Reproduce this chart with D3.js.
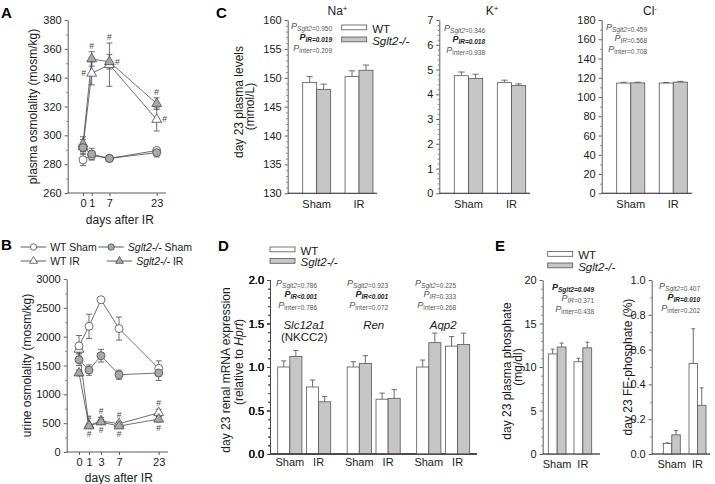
<!DOCTYPE html>
<html><head><meta charset="utf-8">
<script src="https://cdnjs.cloudflare.com/ajax/libs/d3/7.8.5/d3.min.js"></script>
<style>body{margin:0;background:#fff}svg{display:block}</style>
</head><body><svg id="c" width="715" height="484"></svg>
<script>
// ---------------- DATA ----------------
// Panel A: plasma osmolality
const daysA = [0, 1, 7, 23];
const plasmaWTSham = [283, 286, 284, 289.5], plasmaWTShamErr = [4, 3, 2, 2];
const plasmaKOSham = [291.5, 287, 284, 288], plasmaKOShamErr = [3, 4, 2, 3];
const plasmaWTIR = [292, 343, 349, 311], plasmaWTIRErr = [5, 8, 15, 8];
const plasmaKOIR = [294, 353, 351, 322], plasmaKOIRErr = [5, 5, 5, 4];
// Panel B: urine osmolality
const daysB = [0, 1, 3, 7, 23];
const urineWTSham = [1840, 2180, 2640, 2140, 1450], urineWTShamErr = [180, 210, 40, 200, 130];
const urineKOSham = [1600, 1420, 1670, 1340, 1370], urineKOShamErr = [100, 90, 110, 80, 130];
const urineWTIR = [1780, 460, 540, 490, 680], urineWTIRErr = [60, 30, 60, 40, 60];
const urineKOIR = [1370, 450, 520, 450, 570], urineKOIRErr = [50, 30, 40, 40, 50];
// hash marks: [series, day, side]
const hashA = [["WT IR",1,"left"],["KO IR",1,"above"],["WT IR",7,"above"],["KO IR",7,"right"],["KO IR",23,"above"],["WT IR",23,"right"]];
const hashB = [["WT IR",1,"above"],["KO IR",1,"below"],["WT IR",3,"above"],["KO IR",3,"below"],["WT IR",7,"above"],["KO IR",7,"below"],["WT IR",23,"above"],["KO IR",23,"below"]];
// Panel C: day 23 plasma electrolytes (Sham, IR)
const groups = ["Sham", "IR"];
const naWT = [149.2, 150.2], naWTErr = [1.0, 1.0], naKO = [148.0, 151.3], naKOErr = [0.9, 0.9];
const kWT = [4.75, 4.47], kWTErr = [0.15, 0.1], kKO = [4.64, 4.35], kKOErr = [0.17, 0.07];
const clWT = [114.5, 114.5], clWTErr = [0.8, 0.6], clKO = [114.7, 115.5], clKOErr = [0.7, 0.8];
const pNa = ["=0.950", "=0.019", "=0.209"], pK = ["=0.346", "=0.018", "=0.938"], pCl = ["=0.459", "=0.568", "=0.708"];
// Panel D: renal mRNA expression
const genes = ["Slc12a1", "Ren", "Aqp2"];
const mrnaWTSham = [1.00, 1.00, 1.00], mrnaWTShamErr = [0.07, 0.06, 0.08];
const mrnaKOSham = [1.12, 1.04, 1.28], mrnaKOShamErr = [0.07, 0.09, 0.11];
const mrnaWTIR = [0.77, 0.63, 1.24], mrnaWTIRErr = [0.08, 0.07, 0.11];
const mrnaKOIR = [0.60, 0.64, 1.26], mrnaKOIRErr = [0.06, 0.10, 0.13];
const pSlc = ["=0.786", "<0.001", "=0.786"], pRen = ["=0.923", "<0.001", "=0.072"], pAqp = ["=0.225", "=0.333", "=0.268"];
// Panel E: phosphate
const phosWT = [11.5, 10.6], phosWTErr = [0.55, 0.4], phosKO = [12.3, 12.2], phosKOErr = [0.45, 0.65];
const fePWT = [0.06, 0.52], fePWTErr = [0.004, 0.2], fePKO = [0.11, 0.28], fePKOErr = [0.025, 0.10];
const pPhos = ["=0.049", "=0.371", "=0.438"], pFe = ["=0.407", "=0.010", "=0.202"];

// ---------------- DRAW ----------------
const FONT = '"Liberation Sans", Arial, Helvetica, sans-serif';
const ink = "#4a4a4a", txt = "#1a1a1a";
const markGray = "#a9a9a9", barGray = "#c6c6c6";
const svg = d3.select("#c").attr("font-family", FONT);

function styleAxis(a) {
  a.select(".domain").attr("stroke", ink).attr("stroke-width", 0.9);
  a.selectAll(".tick line").attr("stroke", ink).attr("stroke-width", 0.9);
  a.selectAll(".tick text").attr("font-size", 11).attr("font-family", FONT).attr("fill", txt);
}
function yAxis(g, y, x, step, minorStep, fmt) {
  const [lo, hi] = y.domain();
  const major = d3.range(lo, hi + step / 2, step);
  g.append("g").attr("transform", `translate(${x},0)`)
    .call(d3.axisLeft(y).tickValues(major).tickSize(3).tickSizeOuter(0).tickPadding(3).tickFormat(fmt))
    .call(styleAxis);
  if (minorStep) {
    const minor = d3.range(lo, hi + minorStep / 2, minorStep).filter(v => Math.abs((v - lo) / step - Math.round((v - lo) / step)) > 1e-6);
    g.append("g").attr("transform", `translate(${x},0)`)
      .call(d3.axisLeft(y).tickValues(minor).tickSize(1.6).tickSizeOuter(0).tickFormat(""))
      .call(a => a.select(".domain").remove())
      .selectAll("line").attr("stroke", ink).attr("stroke-width", 0.7);
  }
}
function hline(g, x1, x2, y) {
  g.append("line").attr("x1", x1).attr("x2", x2).attr("y1", y).attr("y2", y).attr("stroke", ink).attr("stroke-width", 0.9);
}
function label(g, x, y, text, size, opts = {}) {
  const t = g.append("text").attr("x", x).attr("y", y).attr("font-size", size).attr("fill", opts.fill || txt)
    .attr("text-anchor", opts.anchor || "start");
  if (opts.italic) t.attr("font-style", "italic");
  if (opts.bold) t.attr("font-weight", "bold");
  if (opts.rotate) t.attr("transform", `rotate(-90,${x},${y})`);
  t.text(text);
  return t;
}
function pLines(g, xRight, yTop, vals, boldIdx) {
  const subs = ["Sglt2", "IR", "inter"];
  vals.forEach((v, i) => {
    const bold = i === boldIdx;
    const t = g.append("text").attr("x", xRight).attr("y", yTop + i * 11).attr("text-anchor", "end")
      .attr("fill", bold ? "#222" : "#555").attr("font-weight", bold ? "bold" : "normal");
    t.append("tspan").attr("font-size", 9).attr("font-style", "italic").text("P");
    t.append("tspan").attr("font-size", 6.5).attr("dy", 2).attr("font-style", i === 2 ? "normal" : "italic").text(subs[i]);
    t.append("tspan").attr("font-size", 6.5).attr("font-style", bold ? "italic" : "normal").text(v);
  });
}
function marker(g, shape, fill, x, y, k = 1) {
  if (shape === "circle") {
    g.append("circle").attr("cx", x).attr("cy", y).attr("r", 4 * k).attr("fill", fill).attr("stroke", ink).attr("stroke-width", 0.8);
  } else {
    g.append("path").attr("d", d3.symbol(d3.symbolTriangle, 42 * k * k)()).attr("transform", `translate(${x},${y})`)
      .attr("fill", fill).attr("stroke", ink).attr("stroke-width", 0.8);
  }
}
const seriesStyle = {
  "WT Sham": { shape: "circle", fill: "#fff" },
  "KO Sham": { shape: "circle", fill: markGray },
  "WT IR": { shape: "triangle", fill: "#fff" },
  "KO IR": { shape: "triangle", fill: markGray }
};

function linePanel(o) {
  const g = svg.append("g");
  yAxis(g, o.y, o.axX, o.yStep, o.yMinor, d3.format("d"));
  hline(g, o.axX, o.axEnd, o.y.range()[0]);
  g.append("g").attr("transform", `translate(0,${o.y.range()[0]})`)
    .call(d3.axisBottom(o.x).tickValues(o.days).tickSize(3).tickPadding(3).tickFormat(d3.format("d")))
    .call(styleAxis).call(a => a.select(".domain").remove());
  const line = d3.line().x((d, i) => o.x(o.days[i])).y(d => o.y(d));
  const order = ["WT IR", "KO IR", "WT Sham", "KO Sham"];
  order.forEach(name => {
    const s = o.series[name];
    g.append("path").attr("d", line(s.v)).attr("fill", "none").attr("stroke", ink).attr("stroke-width", 0.8);
  });
  order.forEach(name => {
    const s = o.series[name];
    s.v.forEach((v, i) => {
      const x = o.x(o.days[i]), y1 = o.y(v - s.e[i]), y2 = o.y(v + s.e[i]);
      g.append("line").attr("x1", x).attr("x2", x).attr("y1", y1).attr("y2", y2).attr("stroke", ink).attr("stroke-width", 0.8);
      [y1, y2].forEach(yy => g.append("line").attr("x1", x - 3).attr("x2", x + 3).attr("y1", yy).attr("y2", yy).attr("stroke", ink).attr("stroke-width", 0.8));
    });
  });
  order.forEach(name => {
    const s = o.series[name], st = seriesStyle[name];
    s.v.forEach((v, i) => marker(g, st.shape, st.fill, o.x(o.days[i]), o.y(v)));
  });
  o.hash.forEach(([name, day, side]) => {
    const s = o.series[name], i = o.days.indexOf(day), v = s.v[i], e = s.e[i];
    let x = o.x(day), y = o.y(v) + 3;
    if (side === "left") x -= 8;
    if (side === "right") x += 8;
    if (side === "above") y = o.y(v + e) - 3;
    if (side === "below") y = o.y(v - e) + 9;
    label(g, x, y, "#", 8.5, { anchor: "middle", fill: "#444" });
  });
  label(g, (o.x.range()[0] + o.x.range()[o.x.range().length - 1]) / 2, o.xTitleY, "days after IR", 12, { anchor: "middle" });
  label(g, o.yTitleX, (o.y.range()[0] + o.y.range()[1]) / 2, o.yTitle, 12, { anchor: "middle", rotate: true });
}

// Panel A
linePanel({
  x: d3.scaleLinear().domain([0, 1, 23]).range([83, 91.7, 156.7]),
  y: d3.scaleLinear().domain([260, 380]).range([193, 20]),
  axX: 67.7, axEnd: 166, yStep: 20, yMinor: 10, days: daysA,
  series: {
    "WT Sham": { v: plasmaWTSham, e: plasmaWTShamErr }, "KO Sham": { v: plasmaKOSham, e: plasmaKOShamErr },
    "WT IR": { v: plasmaWTIR, e: plasmaWTIRErr }, "KO IR": { v: plasmaKOIR, e: plasmaKOIRErr }
  },
  hash: hashA, xTitleY: 224, yTitleX: 37, yTitle: "plasma osmolality (mosm/kg)"
});
// Panel B
linePanel({
  x: d3.scaleLinear().domain([0, 1, 3, 7, 23]).range([79, 89, 101, 119, 158.7]),
  y: d3.scaleLinear().domain([0, 3000]).range([452, 279]),
  axX: 66.7, axEnd: 168, yStep: 500, yMinor: 250, days: daysB,
  series: {
    "WT Sham": { v: urineWTSham, e: urineWTShamErr }, "KO Sham": { v: urineKOSham, e: urineKOShamErr },
    "WT IR": { v: urineWTIR, e: urineWTIRErr }, "KO IR": { v: urineKOIR, e: urineKOIRErr }
  },
  hash: hashB, xTitleY: 481.5, yTitleX: 30.5, yTitle: "urine osmolality (mosm/kg)"
});
// Legend B
{
  const g = svg.append("g");
  const items = [
    ["WT Sham", 20.7, 251, "WT", " Sham"], ["KO Sham", 98.3, 251, "Sglt2-/-", " Sham"],
    ["WT IR", 20.7, 265, "WT", " IR"], ["KO IR", 106.7, 265, "Sglt2-/-", " IR"]
  ];
  items.forEach(([name, x, y, a, b]) => {
    const st = seriesStyle[name];
    hline(g, x, x + 25.5, y - 4);
    marker(g, st.shape, st.fill, x + 12.8, y - 4, 0.8);
    const t = g.append("text").attr("x", x + 29.5).attr("y", y).attr("font-size", 10.5).attr("fill", txt);
    t.append("tspan").attr("font-style", a === "WT" ? "normal" : "italic").text(a);
    t.append("tspan").text(b);
  });
}

// bar helper
function barPanel(g, o) {
  const y = o.y, base = y.range()[0];
  yAxis(g, y, o.axX, o.yStep, o.yMinor, o.fmt || d3.format("d"));
  hline(g, o.axX, o.axEnd, base);
  const x0 = d3.scaleBand().domain(o.groups).range(o.bandRange).paddingInner(o.pad);
  const x1 = d3.scaleBand().domain(["WT", "KO"]).range([0, x0.bandwidth()]);
  const bw = x1.bandwidth();
  o.groups.forEach((grp, i) => {
    [["WT", o.wt, o.wtErr, "#fff"], ["KO", o.ko, o.koErr, barGray]].forEach(([k, vals, errs, fill]) => {
      const x = x0(grp) + x1(k), v = vals[i], e = errs[i];
      const cx = x + bw / 2, top = y(v), et = y(v + e);
      g.append("line").attr("x1", cx).attr("x2", cx).attr("y1", top).attr("y2", et).attr("stroke", ink).attr("stroke-width", 0.8);
      g.append("line").attr("x1", cx - bw * 0.22).attr("x2", cx + bw * 0.22).attr("y1", et).attr("y2", et).attr("stroke", ink).attr("stroke-width", 0.8);
      g.append("rect").attr("x", x).attr("y", top).attr("width", bw).attr("height", base - top)
        .attr("fill", fill).attr("stroke", "#555").attr("stroke-width", 0.8);
    });
    if (o.catY) label(g, x0(grp) + x0.bandwidth() / 2, o.catY, grp, 11, { anchor: "middle" });
  });
  hline(g, o.axX, o.axEnd, base);
}
function legendBoxes(g, x, y1, y2) {
  g.append("rect").attr("x", x).attr("y", y1 - 7.5).attr("width", 25).attr("height", 4.8).attr("fill", "#fff").attr("stroke", "#555").attr("stroke-width", 0.8);
  g.append("rect").attr("x", x).attr("y", y2 - 7.5).attr("width", 25).attr("height", 4.8).attr("fill", barGray).attr("stroke", "#555").attr("stroke-width", 0.8);
  label(g, x + 30.5, y1, "WT", 11.5);
  label(g, x + 30.5, y2, "Sglt2-/-", 11.5, { italic: true });
}

// Panel C
{
  const g = svg.append("g");
  const yC = 193.3;
  barPanel(g, { y: d3.scaleLinear().domain([130, 160]).range([yC, 20]), axX: 287.7, axEnd: 377, yStep: 5, yMinor: 1,
    groups, bandRange: [302.7, 373], pad: 0.34, wt: naWT, wtErr: naWTErr, ko: naKO, koErr: naKOErr, catY: 208 });
  barPanel(g, { y: d3.scaleLinear().domain([0, 7]).range([yC, 20]), axX: 439.3, axEnd: 530, yStep: 1, yMinor: 0.2,
    groups, bandRange: [454.3, 525.7], pad: 0.34, wt: kWT, wtErr: kWTErr, ko: kKO, koErr: kKOErr, catY: 208 });
  barPanel(g, { y: d3.scaleLinear().domain([0, 180]).range([yC, 20]), axX: 601.7, axEnd: 692, yStep: 20, yMinor: 10,
    groups, bandRange: [616.7, 687.3], pad: 0.34, wt: clWT, wtErr: clWTErr, ko: clKO, koErr: clKOErr, catY: 208 });
  pLines(g, 332, 29, pNa, 1);
  pLines(g, 485, 31, pK, 1);
  pLines(g, 647, 30, pCl, -1);
  legendBoxes(g, 341.7, 32.5, 44.5);
  const tNa = label(g, 337.5, 15, "Na", 12, { anchor: "middle" }); tNa.append("tspan").attr("font-size", 8).attr("dy", -4).text("+");
  const tK = label(g, 492, 15, "K", 12, { anchor: "middle" }); tK.append("tspan").attr("font-size", 8).attr("dy", -4).text("+");
  const tCl = label(g, 650, 15, "Cl", 12, { anchor: "middle" }); tCl.append("tspan").attr("font-size", 8).attr("dy", -4).text("-");
  label(g, 243, 102, "day 23 plasma levels", 12, { anchor: "middle", rotate: true });
  label(g, 254, 106.5, "(mmol/L)", 12, { anchor: "middle", rotate: true });
}

// Panel D
{
  const g = svg.append("g");
  const y = d3.scaleLinear().domain([0, 2]).range([454, 280]);
  yAxis(g, y, 270, 0.5, 0.1, d3.format(".1f"));
  hline(g, 270, 477, 454);
  const xg = d3.scaleBand().domain(genes).range([277.7, 469.7]).paddingInner(0.237);
  const sets = [
    [mrnaWTSham, mrnaWTShamErr, mrnaKOSham, mrnaKOShamErr],
    [mrnaWTIR, mrnaWTIRErr, mrnaKOIR, mrnaKOIRErr]
  ];
  genes.forEach((gene, gi) => {
    const gg = g.append("g");
    barPanel(gg, { y, axX: 270, axEnd: 477, yStep: 0.5, yMinor: 0.1, fmt: d3.format(".1f"),
      groups, bandRange: [xg(gene), xg(gene) + xg.bandwidth()], pad: 0.16,
      wt: sets.map(s => s[0][gi]), wtErr: sets.map(s => s[1][gi]), ko: sets.map(s => s[2][gi]), koErr: sets.map(s => s[3][gi]), catY: 466 });
    label(g, xg(gene) + xg.bandwidth() / 2, 329, gene, 11.5, { anchor: "middle", italic: true });
  });
  label(g, xg("Slc12a1") + xg.bandwidth() / 2, 340.5, "(NKCC2)", 11.5, { anchor: "middle" });
  pLines(g, 317, 285.5, pSlc, 1);
  pLines(g, 388, 285.5, pRen, 1);
  pLines(g, 456, 285.5, pAqp, -1);
  legendBoxes(g, 270, 254.5, 266);
  label(g, 229.5, 370, "day 23 renal mRNA expression", 12, { anchor: "middle", rotate: true });
  const t = g.append("text").attr("x", 242.5).attr("y", 362).attr("font-size", 12).attr("fill", txt).attr("text-anchor", "middle")
    .attr("transform", "rotate(-90,242.5,362)");
  t.append("tspan").text("(relative to ");
  t.append("tspan").attr("font-style", "italic").text("Hprt");
  t.append("tspan").text(")");
}

// Panel E
{
  const g = svg.append("g");
  barPanel(g, { y: d3.scaleLinear().domain([0, 20]).range([454, 280]), axX: 542.7, axEnd: 600, yStep: 5, yMinor: 1,
    groups, bandRange: [548.3, 591.7], pad: 0.31, wt: phosWT, wtErr: phosWTErr, ko: phosKO, koErr: phosKOErr, catY: 468 });
  barPanel(g, { y: d3.scaleLinear().domain([0, 1]).range([454, 280]), axX: 651.7, axEnd: 710, yStep: 0.2, yMinor: 0.1, fmt: d3.format(".1f"),
    groups, bandRange: [663.3, 706], pad: 0.34, wt: fePWT, wtErr: fePWTErr, ko: fePKO, koErr: fePKOErr, catY: 468 });
  pLines(g, 594, 290, pPhos, 0);
  pLines(g, 700, 289, pFe, 1);
  legendBoxes(g, 547.7, 259, 270.5);
  label(g, 510.5, 371, "day 23 plasma phosphate", 12, { anchor: "middle", rotate: true });
  label(g, 522, 367, "(mg/dl)", 12, { anchor: "middle", rotate: true });
  label(g, 632, 367, "day 23 FE-phosphate (%)", 12, { anchor: "middle", rotate: true });
}

// Panel letters
[["A", 1, 18], ["B", 1, 250], ["C", 216, 18], ["D", 218, 251], ["E", 495, 251]].forEach(([l, x, y]) =>
  label(svg, x, y, l, 15, { bold: true, fill: "#000" }));
</script>
</body></html>
